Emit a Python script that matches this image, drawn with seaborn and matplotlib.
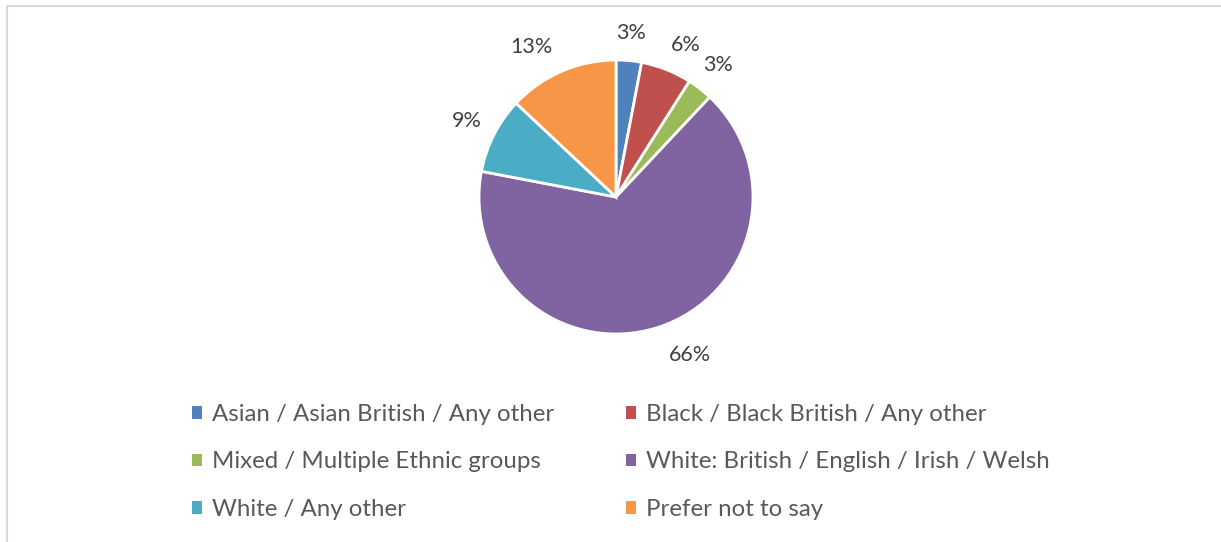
import matplotlib
matplotlib.use("Agg")
import matplotlib.pyplot as plt
import seaborn as sns
import numpy as np
from matplotlib.lines import Line2D
from matplotlib.patches import Rectangle

categories = ["Asian / Asian British / Any other",
              "Black / Black British / Any other",
              "Mixed / Multiple Ethnic groups",
              "White: British / English / Irish / Welsh",
              "White / Any other",
              "Prefer not to say"]
values = [3, 6, 3, 66, 9, 13]
colors = ["#4F81BD", "#C0504D", "#9BBB59", "#8064A2", "#4BACC6", "#F79646"]

sns.set_theme(style="white")
plt.rcParams['font.family'] = ['Lato', 'DejaVu Sans']

W, H = 1221, 542
fig = plt.figure(figsize=(W / 100, H / 100), dpi=100)
fig.patch.set_facecolor("white")

cx, cy, R = 616, 197, 137
ax = fig.add_axes([(cx - R) / W, (H - cy - R) / H, 2 * R / W, 2 * R / H])
wedges, texts = ax.pie(values, colors=colors, startangle=90, counterclock=False,
                       wedgeprops=dict(edgecolor="white", linewidth=2.0),
                       radius=1.0)
ax.set_xlim(-1, 1)
ax.set_ylim(-1, 1)
ax.set_aspect("equal")
ax.axis("off")

label_r = [1.2, 1.22, 1.22, 1.27, 1.22, 1.26]
angle_shift = [0, -3, 0, 7, 0, 6]
for w, v, lr, sh in zip(wedges, values, label_r, angle_shift):
    ang = np.deg2rad((w.theta1 + w.theta2) / 2 + sh)
    ax.text(lr * np.cos(ang), lr * np.sin(ang), f"{v}%", ha="center", va="center",
            fontsize=15.5, color="#404040", clip_on=False)

handles = [Rectangle((0, 0), 1, 1, facecolor=c, edgecolor="none") for c in colors]
order = [0, 2, 4, 1, 3, 5]  # row-wise fill for 2 columns
leg = fig.legend([handles[i] for i in order], [categories[i] for i in order],
                 ncol=2, loc="center",
                 bbox_to_anchor=(621 / W, 1 - 462 / H), frameon=False,
                 fontsize=17.3, labelcolor="#595959",
                 handlelength=0.42, handleheight=0.42, handletextpad=0.4,
                 columnspacing=3.0, labelspacing=1.1)

# partial frame (top and left border)
fig.add_artist(Line2D([7 / W, 1.0], [1 - 6 / H, 1 - 6 / H], color="#D9D9D9", lw=1.5))
fig.add_artist(Line2D([7 / W, 7 / W], [0, 1 - 6 / H], color="#D9D9D9", lw=1.5))

fig.savefig("out.png", dpi=100, facecolor="white")
